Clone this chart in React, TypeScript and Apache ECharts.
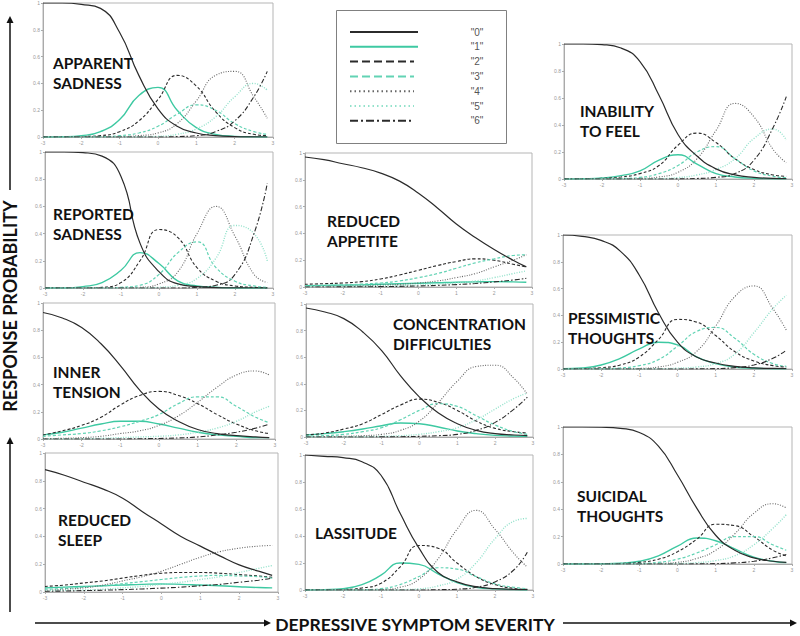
import React, { useEffect, useRef } from 'react';
import * as echarts from 'echarts';

// Latent trait (depressive symptom severity) sample points
const THETA = [-3, -2.5, -2, -1.5, -1, -0.5, 0, 0.5, 1, 1.5, 2, 2.5, 2.85];
const CATEGORY_LABELS = ['"0"', '"1"', '"2"', '"3"', '"4"', '"5"', '"6"'];
const X_TICK_LABELS = ['-3', '-2', '-1', '0', '1', '2', '3'];
const Y_TICK_LABELS = ['0', '0.2', '0.4', '0.6', '0.8', '1'];

// Response probability per category "0".."6" for each item
const APPARENT_SADNESS = [
  [1, 1, 0.99, 0.96, 0.78, 0.46, 0.21, 0.08, 0.03, 0.01, 0.003, 0.001, 0],
  [0, 0.002, 0.01, 0.04, 0.13, 0.31, 0.37, 0.2, 0.07, 0.02, 0.005, 0.001, 0],
  [0, 0, 0.003, 0.01, 0.04, 0.12, 0.28, 0.46, 0.38, 0.19, 0.07, 0.02, 0.01],
  [0, 0, 0, 0.002, 0.01, 0.03, 0.08, 0.17, 0.24, 0.2, 0.1, 0.04, 0.02],
  [0, 0, 0, 0, 0.002, 0.01, 0.03, 0.1, 0.27, 0.46, 0.49, 0.3, 0.14],
  [0, 0, 0, 0, 0, 0.002, 0.005, 0.02, 0.06, 0.15, 0.3, 0.4, 0.35],
  [0, 0, 0, 0, 0, 0, 0, 0.003, 0.01, 0.04, 0.12, 0.3, 0.49],
];
const REPORTED_SADNESS = [
  [1, 1, 0.995, 0.97, 0.82, 0.33, 0.12, 0.03, 0.01, 0.003, 0.001, 0, 0],
  [0, 0, 0.01, 0.04, 0.13, 0.26, 0.18, 0.05, 0.015, 0.005, 0, 0, 0],
  [0, 0, 0, 0.005, 0.04, 0.2, 0.43, 0.37, 0.15, 0.05, 0.015, 0.005, 0],
  [0, 0, 0, 0, 0.005, 0.02, 0.1, 0.26, 0.34, 0.15, 0.05, 0.015, 0.005],
  [0, 0, 0, 0, 0, 0.005, 0.03, 0.12, 0.4, 0.6, 0.38, 0.1, 0.04],
  [0, 0, 0, 0, 0, 0, 0.005, 0.02, 0.07, 0.22, 0.46, 0.4, 0.2],
  [0, 0, 0, 0, 0, 0, 0, 0, 0.005, 0.02, 0.1, 0.4, 0.77],
];
const INNER_TENSION = [
  [0.93, 0.89, 0.82, 0.7, 0.54, 0.36, 0.22, 0.13, 0.07, 0.04, 0.025, 0.015, 0.01],
  [0.03, 0.05, 0.08, 0.11, 0.13, 0.13, 0.11, 0.08, 0.05, 0.03, 0.02, 0.01, 0.01],
  [0.03, 0.06, 0.1, 0.16, 0.25, 0.32, 0.35, 0.32, 0.26, 0.18, 0.11, 0.06, 0.04],
  [0.02, 0.03, 0.04, 0.06, 0.09, 0.13, 0.18, 0.26, 0.31, 0.31, 0.24, 0.16, 0.12],
  [0.003, 0.005, 0.01, 0.02, 0.04, 0.06, 0.1, 0.17, 0.27, 0.38, 0.47, 0.5, 0.47],
  [0, 0, 0.002, 0.005, 0.01, 0.015, 0.02, 0.03, 0.05, 0.08, 0.13, 0.2, 0.24],
  [0, 0, 0, 0, 0, 0.002, 0.004, 0.008, 0.015, 0.03, 0.05, 0.08, 0.11],
];
const REDUCED_SLEEP = [
  [0.88, 0.84, 0.79, 0.74, 0.675, 0.58, 0.49, 0.4, 0.33, 0.26, 0.195, 0.15, 0.12],
  [0.03, 0.035, 0.04, 0.045, 0.05, 0.055, 0.058, 0.055, 0.05, 0.045, 0.038, 0.032, 0.03],
  [0.04, 0.05, 0.065, 0.08, 0.1, 0.12, 0.135, 0.14, 0.14, 0.135, 0.125, 0.115, 0.105],
  [0.02, 0.025, 0.035, 0.045, 0.06, 0.075, 0.09, 0.105, 0.115, 0.12, 0.115, 0.11, 0.1],
  [0.01, 0.02, 0.03, 0.05, 0.08, 0.11, 0.15, 0.2, 0.25, 0.29, 0.315, 0.33, 0.335],
  [0.01, 0.012, 0.015, 0.02, 0.03, 0.04, 0.055, 0.07, 0.09, 0.11, 0.14, 0.17, 0.19],
  [0.005, 0.007, 0.01, 0.013, 0.017, 0.022, 0.028, 0.035, 0.045, 0.055, 0.07, 0.085, 0.1],
];
const REDUCED_APPETITE = [
  [0.97, 0.95, 0.92, 0.89, 0.85, 0.79, 0.7, 0.59, 0.47, 0.37, 0.28, 0.2, 0.15],
  [0.01, 0.012, 0.014, 0.016, 0.02, 0.024, 0.028, 0.032, 0.036, 0.038, 0.04, 0.038, 0.035],
  [0.02, 0.025, 0.03, 0.04, 0.06, 0.09, 0.125, 0.16, 0.19, 0.21, 0.2, 0.17, 0.15],
  [0.01, 0.012, 0.016, 0.022, 0.03, 0.045, 0.07, 0.1, 0.14, 0.18, 0.21, 0.235, 0.24],
  [0.003, 0.004, 0.006, 0.009, 0.014, 0.02, 0.03, 0.045, 0.07, 0.1, 0.15, 0.2, 0.24],
  [0.002, 0.003, 0.004, 0.005, 0.007, 0.01, 0.015, 0.022, 0.03, 0.045, 0.07, 0.1, 0.12],
  [0, 0, 0.001, 0.002, 0.003, 0.005, 0.008, 0.012, 0.018, 0.026, 0.038, 0.052, 0.065],
];
const CONCENTRATION_DIFFICULTIES = [
  [0.97, 0.94, 0.89, 0.79, 0.65, 0.46, 0.3, 0.18, 0.1, 0.05, 0.025, 0.015, 0.01],
  [0.015, 0.025, 0.04, 0.06, 0.085, 0.105, 0.1, 0.075, 0.045, 0.025, 0.012, 0.007, 0.005],
  [0.015, 0.03, 0.06, 0.1, 0.17, 0.24, 0.285, 0.26, 0.2, 0.12, 0.065, 0.04, 0.03],
  [0.005, 0.01, 0.02, 0.04, 0.07, 0.13, 0.2, 0.25, 0.23, 0.16, 0.09, 0.04, 0.02],
  [0.001, 0.002, 0.005, 0.01, 0.02, 0.05, 0.12, 0.26, 0.42, 0.53, 0.54, 0.44, 0.32],
  [0, 0, 0.001, 0.002, 0.005, 0.01, 0.02, 0.04, 0.07, 0.13, 0.21, 0.29, 0.33],
  [0, 0, 0, 0, 0.001, 0.002, 0.005, 0.01, 0.02, 0.05, 0.11, 0.21, 0.3],
];
const LASSITUDE = [
  [1, 0.99, 0.98, 0.95, 0.85, 0.57, 0.31, 0.13, 0.06, 0.025, 0.01, 0.005, 0.003],
  [0, 0.003, 0.01, 0.04, 0.11, 0.2, 0.19, 0.12, 0.055, 0.02, 0.008, 0.003, 0],
  [0, 0, 0.003, 0.015, 0.05, 0.17, 0.33, 0.31, 0.2, 0.1, 0.04, 0.012, 0.005],
  [0, 0, 0, 0.002, 0.01, 0.04, 0.1, 0.165, 0.155, 0.1, 0.045, 0.02, 0.01],
  [0, 0, 0, 0, 0.003, 0.02, 0.08, 0.23, 0.45, 0.59, 0.45, 0.27, 0.17],
  [0, 0, 0, 0, 0, 0.002, 0.008, 0.03, 0.08, 0.2, 0.38, 0.51, 0.53],
  [0, 0, 0, 0, 0, 0, 0, 0.002, 0.006, 0.02, 0.06, 0.15, 0.28],
];
const INABILITY_TO_FEEL = [
  [1, 1, 0.995, 0.97, 0.87, 0.62, 0.33, 0.17, 0.075, 0.03, 0.012, 0.005, 0.003],
  [0, 0.002, 0.008, 0.025, 0.06, 0.14, 0.18, 0.11, 0.04, 0.015, 0.005, 0.002, 0.001],
  [0, 0.001, 0.005, 0.015, 0.04, 0.1, 0.25, 0.34, 0.27, 0.15, 0.07, 0.03, 0.02],
  [0, 0, 0.001, 0.004, 0.012, 0.04, 0.1, 0.2, 0.24, 0.15, 0.06, 0.02, 0.01],
  [0, 0, 0, 0.001, 0.004, 0.015, 0.05, 0.15, 0.36, 0.56, 0.46, 0.22, 0.12],
  [0, 0, 0, 0, 0.001, 0.003, 0.01, 0.03, 0.07, 0.15, 0.3, 0.37, 0.29],
  [0, 0, 0, 0, 0, 0, 0.001, 0.004, 0.012, 0.04, 0.14, 0.38, 0.61],
];
const PESSIMISTIC_THOUGHTS = [
  [1, 0.99, 0.96, 0.88, 0.7, 0.42, 0.2, 0.09, 0.045, 0.02, 0.008, 0.004, 0.003],
  [0.002, 0.008, 0.03, 0.08, 0.15, 0.2, 0.18, 0.09, 0.04, 0.015, 0.006, 0.002, 0.001],
  [0, 0.003, 0.01, 0.03, 0.09, 0.22, 0.37, 0.35, 0.25, 0.13, 0.06, 0.025, 0.015],
  [0, 0, 0.002, 0.008, 0.025, 0.07, 0.17, 0.28, 0.31, 0.23, 0.11, 0.04, 0.02],
  [0, 0, 0, 0.001, 0.004, 0.015, 0.05, 0.13, 0.32, 0.54, 0.62, 0.45, 0.29],
  [0, 0, 0, 0, 0, 0.002, 0.006, 0.015, 0.04, 0.11, 0.27, 0.45, 0.55],
  [0, 0, 0, 0, 0, 0, 0, 0.001, 0.003, 0.01, 0.03, 0.08, 0.14],
];
const SUICIDAL_THOUGHTS = [
  [1, 1, 0.998, 0.99, 0.96, 0.86, 0.65, 0.41, 0.21, 0.1, 0.045, 0.02, 0.012],
  [0, 0, 0.002, 0.006, 0.02, 0.06, 0.13, 0.19, 0.17, 0.11, 0.05, 0.02, 0.01],
  [0, 0, 0.001, 0.004, 0.012, 0.035, 0.09, 0.18, 0.29, 0.28, 0.2, 0.1, 0.06],
  [0, 0, 0, 0.001, 0.004, 0.012, 0.035, 0.08, 0.14, 0.2, 0.2, 0.14, 0.1],
  [0, 0, 0, 0, 0.001, 0.004, 0.012, 0.04, 0.1, 0.22, 0.37, 0.44, 0.41],
  [0, 0, 0, 0, 0, 0.001, 0.003, 0.01, 0.025, 0.06, 0.14, 0.26, 0.36],
  [0, 0, 0, 0, 0, 0, 0, 0.001, 0.003, 0.008, 0.02, 0.045, 0.07],
];

const ITEMS = [
  { title: ['APPARENT', 'SADNESS'], curves: APPARENT_SADNESS },
  { title: ['REPORTED', 'SADNESS'], curves: REPORTED_SADNESS },
  { title: ['INNER', 'TENSION'], curves: INNER_TENSION },
  { title: ['REDUCED', 'SLEEP'], curves: REDUCED_SLEEP },
  { title: ['REDUCED', 'APPETITE'], curves: REDUCED_APPETITE },
  { title: ['CONCENTRATION', 'DIFFICULTIES'], curves: CONCENTRATION_DIFFICULTIES },
  { title: ['LASSITUDE'], curves: LASSITUDE },
  { title: ['INABILITY', 'TO FEEL'], curves: INABILITY_TO_FEEL },
  { title: ['PESSIMISTIC', 'THOUGHTS'], curves: PESSIMISTIC_THOUGHTS },
  { title: ['SUICIDAL', 'THOUGHTS'], curves: SUICIDAL_THOUGHTS },
];

// Layout (pixel positions) of each panel and its label
const LAYOUT = [
  { grid: { left: 43, top: 3, width: 230, height: 134 }, lx: 53, ly: 55 },
  { grid: { left: 45, top: 152, width: 228, height: 136 }, lx: 53, ly: 206 },
  { grid: { left: 43, top: 303, width: 232, height: 136 }, lx: 53, ly: 364 },
  { grid: { left: 45, top: 453, width: 233, height: 139 }, lx: 58, ly: 512 },
  { grid: { left: 305, top: 153, width: 227, height: 134 }, lx: 327, ly: 213 },
  { grid: { left: 306, top: 304, width: 227, height: 133 }, lx: 393, ly: 316 },
  { grid: { left: 305, top: 455, width: 228, height: 135 }, lx: 315, ly: 525 },
  { grid: { left: 564, top: 44, width: 228, height: 135 }, lx: 580, ly: 103 },
  { grid: { left: 563, top: 235, width: 229, height: 134 }, lx: 568, ly: 310 },
  { grid: { left: 563, top: 427, width: 229, height: 137 }, lx: 577, ly: 488 },
];

const DARK = '#2b2b2b';
const GREEN = '#3ec9a2';
const CAT_STYLES = [
  { color: DARK, width: 1.2, type: 'solid' as any },
  { color: GREEN, width: 1.4, type: 'solid' as any },
  { color: DARK, width: 1.1, type: [3, 2] as any },
  { color: '#62d3b4', width: 1.2, type: [3, 2] as any },
  { color: '#666666', width: 1.1, type: [1, 1.5] as any },
  { color: '#93e2cb', width: 1.4, type: [1, 1.5] as any },
  { color: DARK, width: 1.1, type: [5, 2, 1.5, 2] as any },
];
const LEGEND_DASH = [null, null, [8, 4], [8, 4], [1.5, 3], [1.5, 3], [8, 3, 2, 3]];

export default function App() {
  const ref = useRef<HTMLDivElement>(null);
  useEffect(() => {
    document.body.style.margin = '0';
    if (!ref.current) return;
    const chart = echarts.init(ref.current, null, { renderer: 'svg' });

    const grids: any[] = [];
    const xAxes: any[] = [];
    const yAxes: any[] = [];
    const series: any[] = [];
    const graphics: any[] = [];

    ITEMS.forEach((item, i) => {
      const L = LAYOUT[i];
      grids.push({ ...L.grid, show: true, borderColor: '#b5b5b5', borderWidth: 1, backgroundColor: '#fff' });
      xAxes.push({
        type: 'value', gridIndex: i, min: -3, max: 3, interval: 1,
        axisLine: { show: true, onZero: false, lineStyle: { color: '#aaa', width: 1 } },
        axisTick: { show: true, length: 2, lineStyle: { color: '#aaa' } },
        axisLabel: { fontSize: 5, color: '#999', margin: 3, formatter: (v: number) => X_TICK_LABELS[Math.round(v + 3)] },
        splitLine: { show: false },
      });
      yAxes.push({
        type: 'value', gridIndex: i, min: 0, max: 1, interval: 0.2,
        axisLine: { show: true, onZero: false, lineStyle: { color: '#aaa', width: 1 } },
        axisTick: { show: true, length: 2, lineStyle: { color: '#aaa' } },
        axisLabel: { fontSize: 5, color: '#999', margin: 3, formatter: (v: number) => Y_TICK_LABELS[Math.round(v * 5)] },
        splitLine: { show: false },
      });
      item.curves.forEach((curve, k) => {
        const s = CAT_STYLES[k];
        series.push({
          type: 'line', name: CATEGORY_LABELS[k], xAxisIndex: i, yAxisIndex: i,
          data: THETA.map((t, j) => [t, curve[j]]),
          smooth: 0.5, showSymbol: false, silent: true,
          lineStyle: { color: s.color, width: s.width, type: s.type },
          z: k === 0 ? 4 : 3,
        });
      });
      item.title.forEach((line, li) => {
        graphics.push({
          type: 'text', x: L.lx, y: L.ly + li * 20, z: 10,
          style: { text: line, fontFamily: 'Lato', fontWeight: 'bold', fontSize: 15.5, fill: '#111', textVerticalAlign: 'top' },
        });
      });
    });

    // Legend box
    graphics.push({ type: 'rect', shape: { x: 336.5, y: 10.5, width: 170, height: 133 }, style: { fill: '#fff', stroke: '#808080', lineWidth: 1 }, z: 5 });
    CATEGORY_LABELS.forEach((lab, k) => {
      const y = 32 + k * 14.8;
      const s = CAT_STYLES[k];
      const dash = LEGEND_DASH[k];
      graphics.push({
        type: 'line', z: 6,
        shape: { x1: 350, y1: y, x2: dash ? 414 : 418, y2: y },
        style: { stroke: s.color, lineWidth: 2, lineDash: dash || undefined },
      });
      graphics.push({
        type: 'text', x: 477, y, z: 6,
        style: { text: lab, fontFamily: 'Liberation Sans', fontSize: 10, fill: '#555', textAlign: 'center', textVerticalAlign: 'middle' },
      });
    });

    // Axis titles and arrows
    graphics.push({
      type: 'text', x: 10, y: 306, rotation: Math.PI / 2, z: 6,
      style: { text: 'RESPONSE PROBABILITY', fontFamily: 'Lato', fontWeight: 'bold', fontSize: 18, fill: '#111', textAlign: 'center', textVerticalAlign: 'middle' },
    });
    graphics.push({
      type: 'text', x: 415, y: 624, z: 6,
      style: { text: 'DEPRESSIVE SYMPTOM SEVERITY', fontFamily: 'Lato', fontWeight: 'bold', fontSize: 17.5, fill: '#111', textAlign: 'center', textVerticalAlign: 'middle' },
    });
    const arrowStroke = { stroke: '#111', lineWidth: 1.5 };
    graphics.push({ type: 'line', shape: { x1: 35, y1: 623, x2: 266, y2: 623 }, style: arrowStroke });
    graphics.push({ type: 'polygon', shape: { points: [[271, 623], [264, 619.5], [264, 626.5]] }, style: { fill: '#111' } });
    graphics.push({ type: 'line', shape: { x1: 563, y1: 623, x2: 792, y2: 623 }, style: arrowStroke });
    graphics.push({ type: 'polygon', shape: { points: [[797, 623], [790, 619.5], [790, 626.5]] }, style: { fill: '#111' } });
    graphics.push({ type: 'line', shape: { x1: 10, y1: 612, x2: 10, y2: 443 }, style: arrowStroke });
    graphics.push({ type: 'polygon', shape: { points: [[10, 437], [6.5, 444], [13.5, 444]] }, style: { fill: '#111' } });
    graphics.push({ type: 'line', shape: { x1: 10, y1: 190, x2: 10, y2: 22 }, style: arrowStroke });
    graphics.push({ type: 'polygon', shape: { points: [[10, 16], [6.5, 23], [13.5, 23]] }, style: { fill: '#111' } });

    chart.setOption({
      animation: false,
      backgroundColor: '#fff',
      grid: grids,
      xAxis: xAxes,
      yAxis: yAxes,
      series,
      graphic: graphics,
    });
    return () => chart.dispose();
  }, []);
  return <div ref={ref} style={{ width: 800, height: 636 }} />;
}
